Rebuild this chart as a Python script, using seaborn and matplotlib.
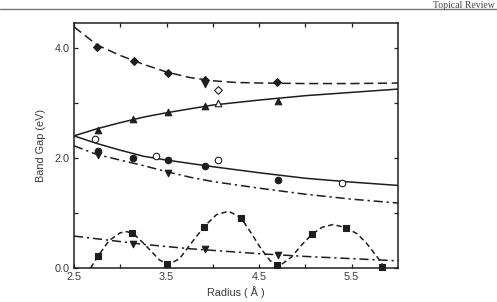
import matplotlib
matplotlib.use("Agg")
import matplotlib.pyplot as plt
import seaborn as sns
import pandas as pd
from matplotlib.ticker import FixedLocator, NullFormatter, FixedFormatter

# ---------------- data ----------------
# Upper dashed curve (filled diamonds)
curve_a_x = [2.5, 2.75, 3.0, 3.25, 3.5, 3.75, 4.0, 4.25, 4.5, 5.0, 5.5, 6.0]
curve_a_y = [4.38, 4.05, 3.86, 3.70, 3.56, 3.46, 3.40, 3.37, 3.36, 3.35, 3.35, 3.36]
diamond_x = [2.75, 3.15, 3.52, 3.91, 4.69]
diamond_y = [4.02, 3.76, 3.55, 3.42, 3.37]
open_diamond_x = [4.06]
open_diamond_y = [3.24]

# Solid upper curve (filled triangles)
curve_b_x = [2.5, 2.75, 3.0, 3.25, 3.5, 3.75, 4.0, 4.5, 5.0, 5.5, 6.0]
curve_b_y = [2.40, 2.53, 2.64, 2.74, 2.82, 2.89, 2.96, 3.05, 3.13, 3.19, 3.25]
tri_x = [2.76, 3.14, 3.52, 3.91, 4.70]
tri_y = [2.51, 2.71, 2.84, 2.95, 3.04]
open_tri_x = [4.06]
open_tri_y = [3.00]

# Solid lower curve (filled / open circles)
curve_c_x = [2.5, 2.75, 3.0, 3.25, 3.5, 3.75, 4.0, 4.5, 5.0, 5.5, 6.0]
curve_c_y = [2.40, 2.26, 2.14, 2.03, 1.96, 1.90, 1.84, 1.73, 1.63, 1.56, 1.50]
circle_x = [2.76, 3.14, 3.52, 3.91, 4.70]
circle_y = [2.13, 1.99, 1.96, 1.85, 1.60]
open_circle_x = [2.73, 3.39, 4.06, 5.40]
open_circle_y = [2.35, 2.04, 1.96, 1.54]

# Upper dash-dot curve (down triangles)
curve_d_x = [2.5, 2.75, 3.0, 3.25, 3.5, 3.75, 4.0, 4.5, 5.0, 5.5, 6.0]
curve_d_y = [2.22, 2.06, 1.96, 1.86, 1.75, 1.65, 1.57, 1.45, 1.34, 1.25, 1.18]
dtri_d_x = [2.76, 3.52, 3.91]
dtri_d_y = [2.05, 1.72, 3.34]

# Lower dash-dot curve (down triangles)
curve_e_x = [2.5, 2.75, 3.0, 3.25, 3.5, 3.75, 4.0, 4.5, 5.0, 5.5, 6.0]
curve_e_y = [0.58, 0.53, 0.48, 0.43, 0.39, 0.35, 0.32, 0.26, 0.21, 0.17, 0.13]
dtri_e_x = [3.14, 3.91, 4.70]
dtri_e_y = [0.44, 0.35, 0.23]

# Oscillating short-dashed curve (squares)
curve_f_x = [2.68, 2.76, 2.88, 3.0, 3.07, 3.14, 3.28, 3.42, 3.52, 3.64, 3.78, 3.91,
             4.04, 4.17, 4.30, 4.42, 4.52, 4.62, 4.72, 4.85, 4.96, 5.07, 5.18, 5.30,
             5.44, 5.56, 5.66, 5.78, 5.86]
curve_f_y = [0.0, 0.22, 0.50, 0.64, 0.66, 0.63, 0.40, 0.15, 0.06, 0.17, 0.48, 0.76,
             0.97, 1.03, 0.92, 0.62, 0.35, 0.13, 0.04, 0.20, 0.42, 0.61, 0.74, 0.79,
             0.73, 0.62, 0.45, 0.19, 0.0]
square_x = [2.76, 3.13, 3.51, 3.90, 4.30, 4.69, 5.07, 5.44, 5.83]
square_y = [0.22, 0.64, 0.07, 0.75, 0.91, 0.05, 0.62, 0.73, 0.02]

x_major = [2.5, 3.5, 4.5, 5.5]
x_minor = [3.0, 4.0, 5.0]
x_labels = ["2.5", "3.5", "4.5", "5.5"]
y_major = [0.0, 2.0, 4.0]
y_minor = [1.0, 3.0]
y_labels = ["0.0", "2.0", "4.0"]

# ---------------- styling ----------------
sns.set_style("ticks")
plt.rcParams["font.family"] = ["Liberation Sans", "DejaVu Sans"]
INK = "#1e1e1e"
TXT = "#3a3a3a"

fig = plt.figure(figsize=(4.97, 3.02), dpi=100)
ax = fig.add_axes([74 / 497, 34 / 302, 324 / 497, 245 / 302])

lw = 1.1
def line(xs, ys, ls):
    df = pd.DataFrame({"x": xs, "y": ys})
    sns.lineplot(data=df, x="x", y="y", ax=ax, color=INK, linewidth=lw,
                 sort=False, estimator=None, linestyle=ls)

line(curve_a_x, curve_a_y, (0, (6, 3)))
line(curve_b_x, curve_b_y, "-")
line(curve_c_x, curve_c_y, "-")
line(curve_d_x, curve_d_y, (0, (6, 2.5, 1.5, 2.5)))
line(curve_e_x, curve_e_y, (0, (6, 2.5, 1.5, 2.5)))
line(curve_f_x, curve_f_y, (0, (3.5, 2.2)))

def pts(xs, ys, marker, size, filled=True):
    df = pd.DataFrame({"x": xs, "y": ys})
    sns.scatterplot(data=df, x="x", y="y", ax=ax, marker=marker, s=size,
                    color=INK if filled else "white", edgecolor=INK,
                    linewidth=0.8, zorder=5, legend=False, clip_on=False)

pts(diamond_x, diamond_y, "D", 16)
pts(open_diamond_x, open_diamond_y, "D", 16, filled=False)
pts(tri_x, tri_y, "^", 22)
pts(open_tri_x, open_tri_y, "^", 22, filled=False)
pts(circle_x, circle_y, "o", 22)
pts(open_circle_x, open_circle_y, "o", 22, filled=False)
pts(dtri_d_x, dtri_d_y, "v", 22)
pts(dtri_e_x, dtri_e_y, "v", 22)
pts(square_x, square_y, "s", 18)

ax.set_xlim(2.5, 6.0)
ax.set_ylim(0.0, 4.45)

ax.xaxis.set_major_locator(FixedLocator(x_major))
ax.xaxis.set_major_formatter(FixedFormatter(x_labels))
ax.xaxis.set_minor_locator(FixedLocator(x_minor))
ax.xaxis.set_minor_formatter(NullFormatter())
ax.yaxis.set_major_locator(FixedLocator(y_major))
ax.yaxis.set_major_formatter(FixedFormatter(y_labels))
ax.yaxis.set_minor_locator(FixedLocator(y_minor))
ax.yaxis.set_minor_formatter(NullFormatter())

for which in ("major", "minor"):
    ax.tick_params(axis="both", which=which, direction="in", length=3, width=0.9,
                   top=True, right=True, color=INK, labelsize=7.8,
                   labelcolor=TXT, pad=3)

for sp in ax.spines.values():
    sp.set_visible(True)
    sp.set_linewidth(1.1)
    sp.set_color(INK)

ax.set_xlabel("Radius ( Å )", fontsize=7.8, color=TXT, labelpad=3)
ax.set_ylabel("Band Gap (eV)", fontsize=7.8, color=TXT, labelpad=6)

# page header from the scanned journal page
fig.add_artist(plt.Line2D([0, 1], [1 - 8.5 / 302] * 2, color="#777777",
                          linewidth=1.0, transform=fig.transFigure))
fig.text(495 / 497, 1 - 0.5 / 302, "Topical Review", fontsize=7.0,
         family=["Liberation Serif", "DejaVu Serif"], color="#444444",
         ha="right", va="top")

fig.savefig("out.png", dpi=100)
